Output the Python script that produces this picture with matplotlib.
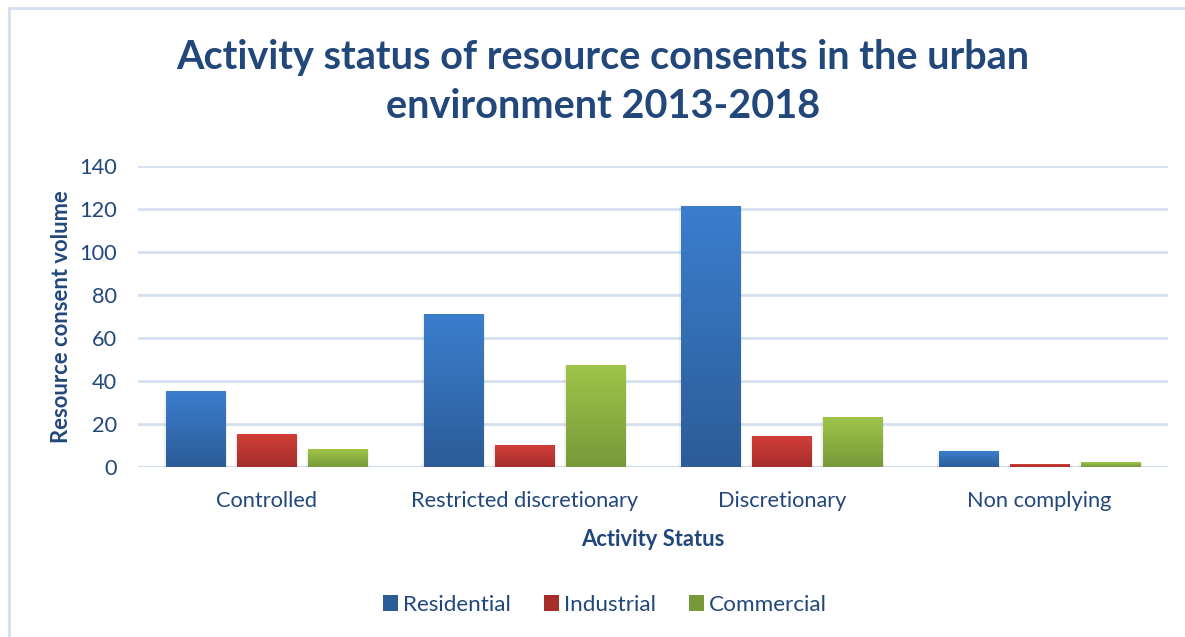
import matplotlib
matplotlib.use("Agg")
import matplotlib.pyplot as plt
import numpy as np
from matplotlib.patches import Patch
from matplotlib.lines import Line2D
from matplotlib.colors import LinearSegmentedColormap

plt.rcParams['font.family'] = ['Lato', 'DejaVu Sans']

categories = ['Controlled', 'Restricted discretionary', 'Discretionary', 'Non complying']
series = ['Residential', 'Industrial', 'Commercial']
residential = [35, 71, 121, 7]
industrial = [15, 10, 14, 1]
commercial = [8, 47, 23, 2]
yticks = [0, 20, 40, 60, 80, 100, 120, 140]

# (top colour, bottom colour) for each series gradient
shades = [('#3B7ECE', '#2C5C98'), ('#D23E39', '#A52E2B'), ('#9EC549', '#78993A')]
text_col = '#22477A'
grid_col = '#D6E1EF'

fig = plt.figure(figsize=(11.85, 6.37), dpi=100)
ax = fig.add_axes([138 / 1185, 1 - 467 / 637, 1030 / 1185, 301 / 637])

x = np.arange(len(categories))
width = 0.23
step = 0.276
grad = np.linspace(1, 0, 256).reshape(-1, 1)

for i, (vals, (top, bot)) in enumerate(zip([residential, industrial, commercial], shades)):
    cmap = LinearSegmentedColormap.from_list('g%d' % i, [bot, top])
    bars = ax.bar(x + (i - 1) * step, vals, width, color='none', zorder=3)
    for b in bars:
        x0, y0 = b.get_x(), b.get_y()
        w, h = b.get_width(), b.get_height()
        # soft drop shadow under each bar
        ax.add_patch(plt.Rectangle((x0 - 0.008, y0 - 1.2), w + 0.016, h + 1.2,
                                   facecolor='#000000', alpha=0.06, zorder=2, lw=0))
        ax.imshow(grad, cmap=cmap, aspect='auto', extent=(x0, x0 + w, y0, y0 + h),
                  zorder=3, interpolation='bilinear')

ax.set_xlim(-0.5, len(categories) - 0.5)
ax.set_ylim(0, 140)
ax.set_yticks(yticks)
ax.set_xticks(x)
ax.set_xticklabels(categories)
ax.tick_params(axis='both', length=0, labelsize=15.7, colors=text_col)
ax.tick_params(axis='x', pad=17)
ax.tick_params(axis='y', pad=15)
ax.yaxis.grid(True, color=grid_col, lw=2)
ax.set_axisbelow(True)
for s in ax.spines.values():
    s.set_visible(False)
ax.axhline(0, color=grid_col, lw=2.5, zorder=1)

ax.set_xlabel('Activity Status', fontsize=15.8, fontweight='bold', color=text_col, labelpad=13)
ax.set_ylabel('Resource consent volume', fontsize=15.8, fontweight='bold', color=text_col, labelpad=5)

fig.text(603 / 1185, 1 - 57 / 637, 'Activity status of resource consents in the urban',
         ha='center', va='center', fontsize=28.5, fontweight='bold', color=text_col)
fig.text(603 / 1185, 1 - 107 / 637, 'environment 2013-2018',
         ha='center', va='center', fontsize=28.5, fontweight='bold', color=text_col)

# chart frame, only the top and left edges fall inside the image
fig.add_artist(Line2D([9 / 1185, 1], [1 - 8 / 637, 1 - 8 / 637], color='#D3DFF0', lw=2))
fig.add_artist(Line2D([9 / 1185, 9 / 1185], [0, 1 - 8 / 637], color='#D3DFF0', lw=2))

handles = [Patch(facecolor=c[1], edgecolor='none') for c in shades]
fig.legend(handles, series, loc='center', bbox_to_anchor=(605 / 1185, 1 - 605 / 637),
           ncol=3, frameon=False, fontsize=16.2, labelcolor=text_col,
           handlelength=0.67, handleheight=0.67, handletextpad=0.22, columnspacing=1.45)

fig.savefig('out.png', dpi=100)
